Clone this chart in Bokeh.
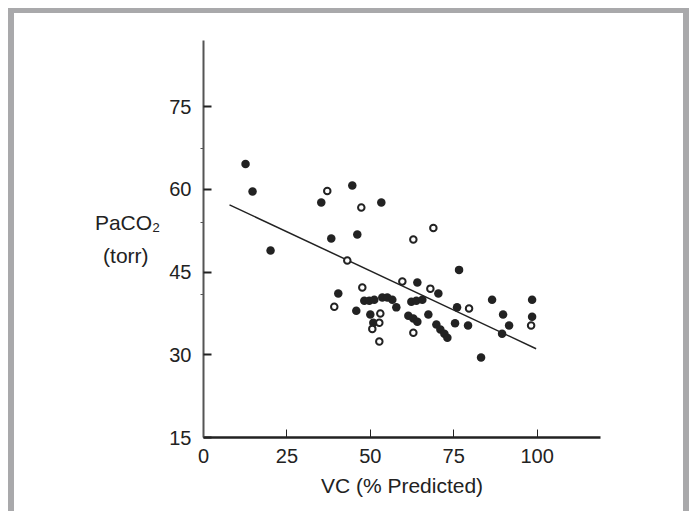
from bokeh.plotting import figure
from bokeh.models import FixedTicker, Range1d, InlineStyleSheet
from bokeh.embed import file_html
from bokeh.resources import INLINE

# ---- data ----
filled_x = [12.6, 14.7, 20.1, 35.3, 44.6, 53.3, 38.3, 46.1, 40.4, 45.8, 48.2, 49.7, 51.2,
            53.6, 55.1, 56.6, 57.8, 50.0, 50.9, 76.6, 64.1, 70.4, 62.3, 63.8, 65.6, 61.4,
            62.9, 64.1, 67.4, 69.8, 71.0, 72.2, 73.1, 75.4, 76.0, 79.3, 86.5, 98.5, 89.8,
            98.5, 91.6, 89.5, 83.2]
filled_y = [64.6, 59.6, 48.9, 57.6, 60.7, 57.6, 51.1, 51.8, 41.1, 38.0, 39.8, 39.8, 40.0,
            40.4, 40.4, 40.0, 38.6, 37.3, 35.8, 45.4, 43.1, 41.1, 39.6, 39.8, 40.0, 37.1,
            36.6, 36.0, 37.3, 35.5, 34.6, 33.8, 33.1, 35.7, 38.6, 35.3, 40.0, 40.0, 37.3,
            36.9, 35.3, 33.8, 29.5]
open_x = [37.1, 47.3, 43.1, 62.9, 68.9, 39.2, 47.6, 53.0, 52.7, 50.6, 52.7, 59.6, 68.0,
          62.9, 79.6, 98.2]
open_y = [59.7, 56.7, 47.1, 50.9, 53.0, 38.7, 42.2, 37.5, 35.8, 34.7, 32.4, 43.3, 42.0,
          34.0, 38.4, 35.3]
line_x = [7.8, 99.7]
line_y = [57.2, 31.1]
x_ticks = [0, 25, 50, 75, 100]
y_ticks = [15, 30, 45, 60, 75]
y_minor = [41, 54, 67.5]
x_label = "VC (% Predicted)"
y_label = "PaCO\u2082\n(torr)\u00a0\u00a0"

FONT = "Liberation Sans"
INK = "#222222"
GRAY = "#a9a9ab"

frame_css = InlineStyleSheet(css=f"""
:host {{ position: relative; }}
:host::after {{
  content: ""; position: absolute; left: 8px; top: 8px; right: 0px; bottom: 0px;
  border-left: 6px solid {GRAY}; border-top: 5px solid {GRAY}; border-right: 6px solid {GRAY};
  box-sizing: border-box; pointer-events: none; z-index: 100;
}}
""")

p = figure(width=689, height=511, output_backend="svg", toolbar_location=None,
           x_range=Range1d(0, 119), y_range=Range1d(15, 87),
           min_border_left=203, min_border_right=89, min_border_top=40, min_border_bottom=74,
           stylesheets=[frame_css])
p.background_fill_color = "white"
p.border_fill_color = "white"
p.outline_line_color = None
p.xgrid.visible = False
p.ygrid.visible = False

# x axis
xa = p.xaxis[0]
xa.ticker = FixedTicker(ticks=x_ticks)
xa.axis_line_color = INK
xa.axis_line_width = 2.5
xa.major_tick_in = 8
xa.major_tick_out = 0
xa.major_tick_line_color = INK
xa.major_tick_line_width = 1
xa.minor_tick_line_color = None
xa.major_label_text_font = FONT
xa.major_label_text_font_size = "20px"
xa.major_label_text_color = INK
xa.major_label_standoff = 11
xa.axis_label = x_label
xa.axis_label_text_font = FONT
xa.axis_label_text_font_size = "21px"
xa.axis_label_text_font_style = "normal"
xa.axis_label_text_color = INK
xa.axis_label_standoff = 8

# y axis
ya = p.yaxis[0]
ya.ticker = FixedTicker(ticks=y_ticks, minor_ticks=y_minor)
ya.axis_line_color = "#555555"
ya.axis_line_width = 2
ya.major_tick_in = 8
ya.major_tick_out = 0
ya.major_tick_line_color = INK
ya.major_tick_line_width = 2
ya.minor_tick_in = 0
ya.minor_tick_out = 3
ya.minor_tick_line_color = "#555555"
ya.major_label_text_font = FONT
ya.major_label_text_font_size = "20px"
ya.major_label_text_color = INK
ya.major_label_standoff = 9
ya.axis_label = y_label
ya.axis_label_orientation = "horizontal"
ya.axis_label_text_font = FONT
ya.axis_label_text_font_size = "21px"
ya.axis_label_text_font_style = "normal"
ya.axis_label_text_color = INK
ya.axis_label_text_line_height = 1.4
ya.axis_label_standoff = 6

# regression line and points
p.line(line_x, line_y, line_color=INK, line_width=1.5)
p.scatter(filled_x, filled_y, size=8.5, fill_color=INK, line_color=None)
p.scatter(open_x, open_y, size=6.5, fill_color="white", line_color=INK, line_width=2)

open("out.html", "w").write(file_html(p, INLINE))
